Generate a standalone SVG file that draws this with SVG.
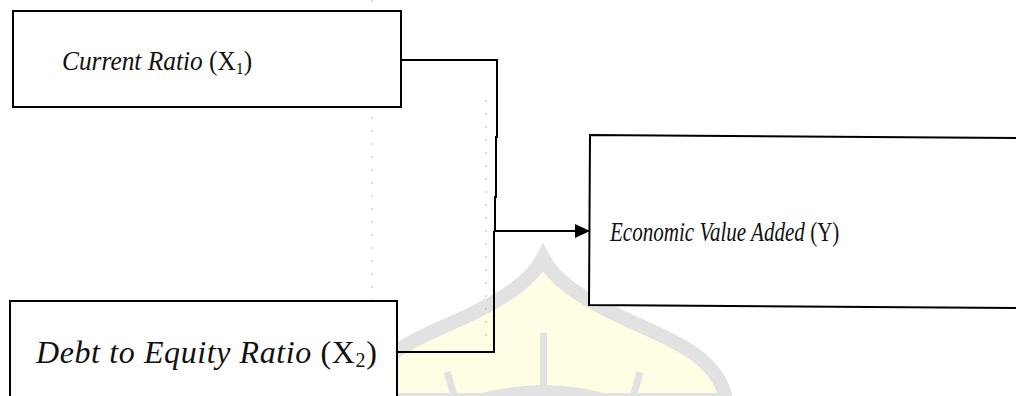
<svg xmlns="http://www.w3.org/2000/svg" width="1016" height="396" viewBox="0 0 1016 396">
<style>
.box{fill:#fff;stroke:#000;stroke-width:2}
.conn{fill:none;stroke:#000;stroke-width:2}
.lbl{font-family:"Liberation Serif","Times New Roman",serif;fill:#111}
.it{font-style:italic}
.wm{fill:none;stroke:#e2e2e2}
.guide{stroke:#b8b8b8;stroke-width:1;stroke-dasharray:2 11}
</style>
<defs>
<marker id="arr" markerUnits="userSpaceOnUse" markerWidth="16" markerHeight="14" refX="15" refY="7" orient="auto">
<path d="M0,0 L15,7 L0,14 Z" fill="#000"/>
</marker>
</defs>
<rect width="1016" height="396" fill="#fff"/>
<g id="watermark">
<path d="M360,400 C367,354 425,336 465,317 C505,298 532,280 543,258 C554,280 581,298 621,317 C661,336 719,354 726,400 Z" fill="#fffde4" stroke="#e2e2e2" stroke-width="14"/>
<rect x="540" y="333" width="7" height="60" fill="#e2e2e2"/>
<line class="wm" x1="447" y1="372" x2="455" y2="398" stroke-width="7"/>
<line class="wm" x1="640" y1="372" x2="633" y2="398" stroke-width="7"/>
<path class="wm" d="M466,402 Q543,376 620,402" stroke-width="8"/>
</g>
<g id="guides">
<line class="guide" x1="372" y1="0" x2="372" y2="396"/>
<line class="guide" x1="486" y1="100" x2="486" y2="336"/>
</g>
<g id="node-x1">
<rect class="box" x="13" y="11" width="388" height="96"/>
<text class="lbl" transform="translate(62,70) scale(0.94,1)" font-size="27"><tspan class="it">Current Ratio </tspan>(X<tspan font-size="17" dy="4">1</tspan><tspan dy="-4">)</tspan></text>
</g>
<g id="node-x2">
<rect class="box" x="10" y="301" width="387" height="110"/>
<text class="lbl" x="36" y="363" font-size="32" letter-spacing="0.6"><tspan class="it">Debt to Equity Ratio </tspan>(X<tspan font-size="20" dy="4">2</tspan><tspan dy="-4">)</tspan></text>
</g>
<g id="node-y">
<path class="box" d="M1030,138 L590,135 L589,305 L1030,308"/>
<text class="lbl" transform="translate(610,241) scale(0.78,1)" font-size="27"><tspan class="it">Economic Value Added </tspan>(Y)</text>
</g>
<g id="connectors">
<path class="conn" d="M401,60 H497 V137 H496 V197 H495 V231"/>
<path class="conn" d="M397,352 H494 V231"/>
<path class="conn" d="M494,231 H590" marker-end="url(#arr)"/>
</g>
</svg>
